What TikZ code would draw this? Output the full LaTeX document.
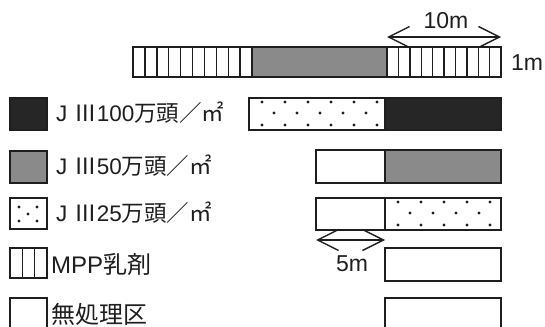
\documentclass[tikz,border=0pt]{standalone}
\usepackage{fontspec}
\setmainfont{Liberation Sans}
\newfontfamily\jp{Noto Sans CJK JP}
\usetikzlibrary{arrows.meta,calc}
\definecolor{midgray}{RGB}{138,138,138}
\definecolor{darkfill}{RGB}{38,38,38}
\definecolor{ink}{RGB}{30,30,30}
\newcommand\JP[1]{{\jp #1}}
\tikzset{
  cell/.style={draw=ink, line width=1.6pt, inner sep=0pt, outer sep=0pt, anchor=north west},
  stripe/.style={draw=ink, line width=1.4pt},
  lbl/.style={inner sep=0pt, anchor=west, text=ink, font=\fontsize{22.5pt}{24pt}\selectfont},
  biglbl/.style={lbl, font=\fontsize{24pt}{26pt}\selectfont},
  dimlbl/.style={inner sep=0pt, text=ink, font=\fontsize{23pt}{25pt}\selectfont},
  dimline/.style={draw=ink, line width=1.4pt,
    {Straight Barb[length=21pt,width=21pt,line width=1.4pt]}-{Straight Barb[length=21pt,width=21pt,line width=1.4pt]}},
  dots/.style={path picture={
    \foreach \yy/\xo in {4/13,15/25,27/13} {
      \foreach \k in {0,...,6} {
        \fill[ink] ([xshift={(\xo+\k*23)*1pt}, yshift={-\yy*1pt}]path picture bounding box.north west) circle (1.7pt);
      }
    }}},
  kdots/.style={path picture={
    \foreach \xx/\yy in {9/9,27/9,18/16,9/23,27/23} {
      \fill[ink] ([xshift={\xx*1pt}, yshift={-\yy*1pt}]path picture bounding box.north west) circle (1.7pt);
    }}}
}
\begin{document}
\begin{tikzpicture}[x=1pt,y=-1pt]
\useasboundingbox (0,0) rectangle (545,326);
\clip (0,0) rectangle (545,326);

% top bar
\node[cell, minimum width=119pt, minimum height=30pt] (tl) at (133,47) {};
\node[cell, fill=midgray, minimum width=135pt, minimum height=30pt] (tm) at (252,47) {};
\node[cell, minimum width=114pt, minimum height=30pt] (tr) at (387,47) {};
\foreach \i in {1,...,9} {
  \draw[stripe] ($(tl.north west)!\i/10!(tl.north east)$) -- ($(tl.south west)!\i/10!(tl.south east)$);
  \draw[stripe] ($(tr.north west)!\i/10!(tr.north east)$) -- ($(tr.south west)!\i/10!(tr.south east)$);
}
\draw[dimline] ([yshift=10pt]tr.north west) -- ([yshift=10pt]tr.north east);
\node[dimlbl] (l10) at (446,21) {10m};
\node[dimlbl] (l1) at (527,63) {1m};

% plots
\node[cell, dots, minimum width=136pt, minimum height=32pt] (aL) at (249,98) {};
\node[cell, fill=darkfill, minimum width=116pt, minimum height=32pt] (aR) at (385,98) {};
\node[cell, minimum width=69pt, minimum height=33pt] (bL) at (316,150) {};
\node[cell, fill=midgray, minimum width=116pt, minimum height=33pt] (bR) at (385,150) {};
\node[cell, minimum width=69pt, minimum height=32pt] (cL) at (316,198) {};
\node[cell, dots, minimum width=116pt, minimum height=32pt] (cR) at (385,198) {};
\node[cell, minimum width=116pt, minimum height=33pt] (dR) at (385,248) {};
\node[cell, minimum width=116pt, minimum height=40pt] (eR) at (385,298) {};

\draw[dimline] ([yshift=-10pt]cL.south west) -- ([yshift=-10pt]cL.south east);
\node[dimlbl] (l5) at (352,264) {5m};

% legend
\node[cell, fill=darkfill, minimum width=37pt, minimum height=32pt] (k1) at (10,98) {};
\node[cell, fill=midgray, minimum width=37pt, minimum height=32pt] (k2) at (10,151) {};
\node[cell, kdots, minimum width=37pt, minimum height=31pt] (k3) at (10,198) {};
\node[cell, minimum width=37pt, minimum height=30pt] (k4) at (10,248) {};
\foreach \i in {1,2} {
  \draw[stripe] ($(k4.north west)!\i/3!(k4.north east)$) -- ($(k4.south west)!\i/3!(k4.south east)$);
}
\node[cell, minimum width=37pt, minimum height=40pt] (k5) at (10,298) {};

\node[lbl] (t1) at (56,113) {J\hspace{7pt}\JP{Ⅲ}100\JP{万頭／㎡}};
\node[lbl] (t2) at (56,166) {J\hspace{7pt}\JP{Ⅲ}50\JP{万頭／㎡}};
\node[lbl] (t3) at (56,213) {J\hspace{7pt}\JP{Ⅲ}25\JP{万頭／㎡}};
\node[biglbl] (t4) at (51,264) {MPP\JP{乳剤}};
\node[biglbl] (t5) at (51,314) {\JP{無処理区}};
\end{tikzpicture}
\end{document}
